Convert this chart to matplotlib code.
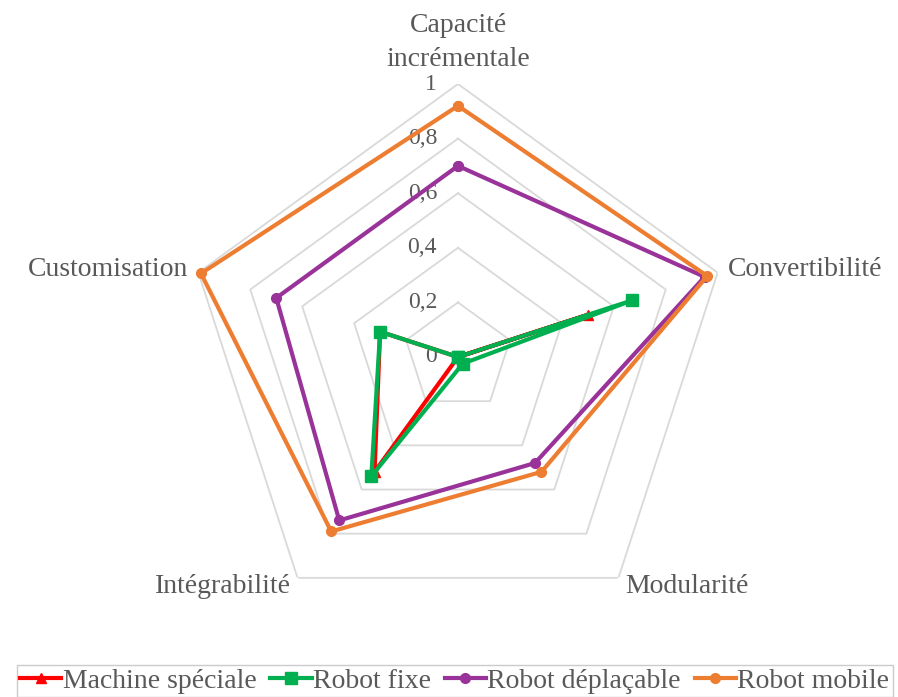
import numpy as np
import matplotlib
matplotlib.use("Agg")
import matplotlib.pyplot as plt

plt.rcParams['font.family'] = ['Liberation Serif', 'DejaVu Serif']

# axes of the radar, clockwise from the top
categories = ['Capacité\nincrémentale', 'Convertibilité', 'Modularité', 'Intégrabilité', 'Customisation']
ticks = [0, 0.2, 0.4, 0.6, 0.8, 1.0]
tick_labels = ['0', '0,2', '0,4', '0,6', '0,8', '1']

series_names = ['Machine spéciale', 'Robot fixe', 'Robot déplaçable', 'Robot mobile']
machine_speciale = [0.0, 0.50, 0.0, 0.52, 0.30]
robot_fixe = [0.0, 0.67, 0.03, 0.54, 0.30]
robot_deplacable = [0.70, 0.95, 0.48, 0.74, 0.70]
robot_mobile = [0.92, 0.96, 0.52, 0.79, 0.99]

colors = ['#FF0000', '#00B050', '#993399', '#ED7D31']
markers = ['^', 's', 'o', 'o']
msizes = [7, 8, 7, 7]

grey_text = '#595959'
grid_col = '#D9D9D9'

n = len(categories)
theta = np.linspace(0, 2 * np.pi, n, endpoint=False)
theta_c = np.append(theta, theta[0])

fig = plt.figure(figsize=(8.98, 6.97), dpi=100)
cx, cy, R = 458, 357, 273
W, H = 898, 697
ax = fig.add_axes([(cx - R) / W, (H - cy - R) / H, 2 * R / W, 2 * R / H], projection='polar')
ax.set_theta_offset(np.pi / 2)
ax.set_theta_direction(-1)
ax.set_ylim(0, 1)
ax.grid(False)
ax.spines['polar'].set_visible(False)
ax.set_xticks([])
ax.set_yticks([])
ax.patch.set_alpha(0)

# pentagon grid rings
for t in ticks[1:]:
    ax.plot(theta_c, [t] * (n + 1), color=grid_col, lw=1.3, zorder=1)

# tick labels on the top axis
for t, lab in zip(ticks, tick_labels):
    ax.annotate(lab, xy=(0, t), xytext=(-21, 0), textcoords='offset pixels',
                ha='right', va='center', fontsize=17, color=grey_text)

data = [machine_speciale, robot_fixe, robot_deplacable, robot_mobile]
for name, vals, c, m, ms in zip(series_names, data, colors, markers, msizes):
    v = np.append(vals, vals[0])
    ax.plot(theta_c, v, color=c, lw=3, marker=m, markersize=ms, label=name, zorder=3, clip_on=False)

# category labels
lab_pos = [
    (0, 1.045, 'center', 'bottom'),
    (theta[1], 1.04, 'left', 'center'),
    (theta[2], 1.04, 'left', 'center'),
    (theta[3], 1.04, 'right', 'center'),
    (theta[4], 1.04, 'right', 'center'),
]
for cat, (th, r, ha, va) in zip(categories, lab_pos):
    ax.text(th, r, cat, ha=ha, va=va, fontsize=20, color=grey_text, linespacing=1.45)

leg = fig.legend(loc='upper left', bbox_to_anchor=(17 / W, 32 / H), ncol=4, fontsize=20,
                 frameon=True, fancybox=False, edgecolor='#BFBFBF', handlelength=1.48,
                 handletextpad=0.05, columnspacing=0.5, borderpad=0.12, borderaxespad=0)
for txt in leg.get_texts():
    txt.set_color(grey_text)

fig.savefig('out.png', dpi=100)
